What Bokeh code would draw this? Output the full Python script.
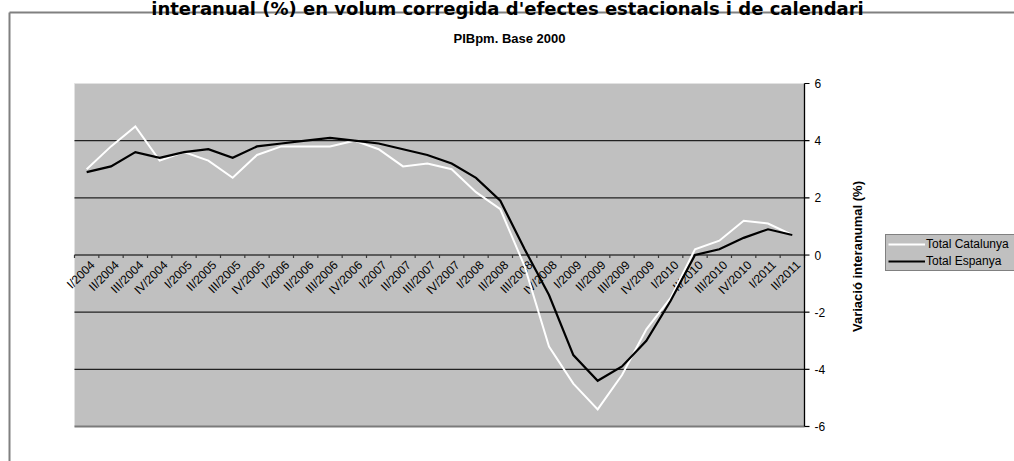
import math
from bokeh.plotting import figure
from bokeh.models import (ColumnDataSource, Range1d, Label, Legend, LegendItem)
from bokeh.core.properties import value
from bokeh.embed import file_html
from bokeh.resources import INLINE

# ---- data ----
quarters = ["I/2004", "II/2004", "III/2004", "IV/2004",
            "I/2005", "II/2005", "III/2005", "IV/2005",
            "I/2006", "II/2006", "III/2006", "IV/2006",
            "I/2007", "II/2007", "III/2007", "IV/2007",
            "I/2008", "II/2008", "III/2008", "IV/2008",
            "I/2009", "II/2009", "III/2009", "IV/2009",
            "I/2010", "II/2010", "III/2010", "IV/2010",
            "I/2011", "II/2011"]
catalunya = [3.0, 3.8, 4.5, 3.3, 3.6, 3.3, 2.7, 3.5, 3.8, 3.8, 3.8, 4.0,
             3.7, 3.1, 3.2, 3.0, 2.2, 1.6, -0.4, -3.2, -4.5, -5.4, -4.2, -2.6,
             -1.5, 0.2, 0.5, 1.2, 1.1, 0.7]
espanya = [2.9, 3.1, 3.6, 3.4, 3.6, 3.7, 3.4, 3.8, 3.9, 4.0, 4.1, 4.0,
           3.9, 3.7, 3.5, 3.2, 2.7, 1.9, 0.2, -1.4, -3.5, -4.4, -3.9, -3.0,
           -1.6, 0.0, 0.2, 0.6, 0.9, 0.7]
y_ticks = [-6, -4, -2, 0, 2, 4, 6]
grid_ticks = [-4, -2, 2, 4]
series_names = ["Total Catalunya", "Total Espanya"]
main_title = "interanual (%) en volum corregida d'efectes estacionals i de calendari"
sub_title = "PIBpm. Base 2000"
y_label = "Variació interanumal (%)"

# ---- layout (pixels) ----
W, H = 1014, 461
PL, PR, PT, PB = 74, 804, 83, 426
Y_MIN, Y_MAX = y_ticks[0], y_ticks[-1]
n = len(quarters)
ppx = (PR - PL) / n
ppy = (PB - PT) / (Y_MAX - Y_MIN)


def X(px):
    return (px - PL) / ppx


def Y(py):
    return Y_MAX - (py - PT) / ppy


p = figure(width=W, height=H, output_backend="svg", toolbar_location=None,
           x_range=Range1d(X(0), X(W)), y_range=Range1d(Y(H), Y(0)),
           x_axis_location=None, y_axis_location=None,
           min_border=0, background_fill_color="white", border_fill_color="white",
           outline_line_color=None)
p.title.visible = False
p.xgrid.visible = False
p.ygrid.visible = False

xc = [i + 0.5 for i in range(n)]          # category centres
xb = [float(i) for i in range(n + 1)]     # category boundaries

# chart-area border
p.segment(x0=[X(9), X(9)], y0=[Y(12), Y(12)], x1=[X(W + 20), X(9)], y1=[Y(12), Y(H + 20)],
          line_color="#808080", line_width=2)

# plot area
p.quad(left=[0], right=[n], bottom=[Y_MIN], top=[Y_MAX],
       fill_color="#C0C0C0", line_color=None)
p.segment(x0=[0, 0], y0=[Y_MAX, Y_MIN], x1=[n, 0], y1=[Y_MAX, Y_MAX],
          line_color="#e2e2e2", line_width=1)
p.segment(x0=[0], y0=[Y_MIN], x1=[n], y1=[Y_MIN], line_color="#7a7a7a", line_width=2)

# horizontal gridlines
p.segment(x0=[0] * len(grid_ticks), y0=grid_ticks, x1=[n] * len(grid_ticks), y1=grid_ticks,
          line_color="#222222", line_width=1.2)

# zero (category) axis with boundary ticks
p.segment(x0=[0], y0=[0], x1=[n], y1=[0], line_color="#3a3a3a", line_width=1.7)
tick_len = 3 / ppy
p.segment(x0=xb, y0=[0] * len(xb), x1=xb, y1=[-tick_len] * len(xb),
          line_color="#3a3a3a", line_width=1.2)
p.text(x=xc, y=[0] * n, text=quarters, angle=math.pi / 4,
       text_align="right", text_baseline="top", x_offset=1, y_offset=3,
       text_font=value("Liberation Sans"), text_font_size="12px", text_color="black")

# right value axis
p.segment(x0=[n], y0=[Y_MIN], x1=[n], y1=[Y_MAX], line_color="black", line_width=1.3)
p.segment(x0=[n] * len(y_ticks), y0=y_ticks, x1=[n + 5 / ppx] * len(y_ticks), y1=y_ticks,
          line_color="black", line_width=1.2)
p.text(x=[n] * len(y_ticks), y=y_ticks, text=[str(t) for t in y_ticks],
       text_align="left", text_baseline="middle", x_offset=10,
       text_font=value("Liberation Sans"), text_font_size="12px", text_color="black")

# series
r_cat = p.line(x=xc, y=catalunya, line_color="white", line_width=2, line_join="miter")
r_esp = p.line(x=xc, y=espanya, line_color="black", line_width=2.2, line_join="miter")

legend = Legend(items=[LegendItem(label=series_names[0], renderers=[r_cat]),
                       LegendItem(label=series_names[1], renderers=[r_esp])],
                location=(885, H - 271), orientation="vertical",
                background_fill_color="#C0C0C0", background_fill_alpha=1,
                border_line_color="#404040", border_line_width=1,
                padding=2, spacing=3, margin=0,
                glyph_height=14, glyph_width=37, label_standoff=1,
                label_height=14, label_width=86,
                label_text_font="Liberation Sans", label_text_font_size="12px",
                label_text_color="black")
p.add_layout(legend)

# titles and axis title
p.add_layout(Label(x=X(507), y=Y(8), text=main_title,
                   text_align="center", text_baseline="alphabetic",
                   text_font="DejaVu Sans", text_font_style="bold", text_font_size="18px",
                   text_color="black"))
p.add_layout(Label(x=X(509), y=Y(38), text=sub_title,
                   text_align="center", text_baseline="middle",
                   text_font="Liberation Sans", text_font_style="bold", text_font_size="13px",
                   text_color="black"))
p.add_layout(Label(x=X(857), y=Y(256), text=y_label,
                   angle=math.pi / 2, text_align="center", text_baseline="middle",
                   text_font="Liberation Sans", text_font_style="bold", text_font_size="13px",
                   text_color="black"))

open("out.html", "w").write(file_html(p, INLINE))
